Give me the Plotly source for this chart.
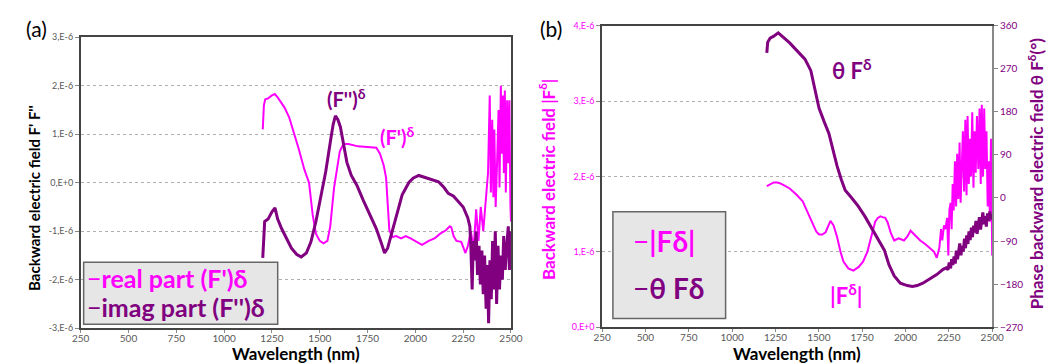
import plotly.graph_objects as go

W, H = 1055, 363

# ---------------- Panel (a) data ----------------
wl_real = [1202, 1208, 1215, 1230, 1250, 1265, 1280, 1300, 1316, 1340, 1367, 1390, 1419, 1444,
           1463, 1480, 1500, 1520, 1540, 1555, 1565, 1575, 1591, 1605, 1624, 1650, 1700, 1750,
           1796, 1815, 1835, 1847, 1855, 1864, 1880, 1900, 1925, 1950, 1975, 2000, 2035, 2070,
           2100, 2130, 2160, 2180, 2188, 2200, 2215, 2240, 2262, 2275, 2290, 2305, 2318, 2330,
           2342, 2355, 2368, 2380, 2389, 2395, 2402, 2408, 2413, 2420, 2428, 2435, 2440, 2447,
           2453, 2458, 2463, 2468, 2473, 2480, 2486, 2492, 2497, 2500]
real_part = [1.1, 1.6, 1.72, 1.74, 1.8, 1.83, 1.76, 1.65, 1.55, 1.35, 1.02, 0.7, 0.28, 0.0,
             -0.66, -1.05, -1.2, -1.25, -1.2, -0.9, -0.5, -0.1, 0.3, 0.65, 0.8, 0.8, 0.75, 0.74,
             0.72, 0.6, 0.35, 0.1, -0.4, -0.98, -1.12, -1.1, -1.15, -1.1, -1.15, -1.2, -1.28, -1.2,
             -1.15, -1.05, -0.98, -0.9, -0.92, -1.1, -1.2, -1.22, -1.45, -1.3, -1.0, -1.35, -0.55, -1.2,
             -0.5, -1.0, -0.3, 0.2, 1.8, -0.2, 1.3, -0.3, 1.1, -0.5, 0.5, 1.5, -0.1, 2.0,
             0.6, 1.8, 0.2, 1.9, -0.2, 1.7, 0.4, 1.7, -0.4, -0.8]

wl_imag = [1202, 1207, 1212, 1230, 1250, 1266, 1280, 1301, 1325, 1352, 1380, 1403, 1430, 1454,
           1480, 1506, 1531, 1557, 1570, 1582, 1595, 1608, 1625, 1642, 1665, 1694, 1726, 1760,
           1796, 1820, 1839, 1855, 1880, 1905, 1931, 1967, 1990, 2018, 2040, 2069, 2095, 2121,
           2150, 2172, 2200, 2223, 2250, 2274, 2285, 2290, 2297, 2303, 2310, 2318, 2325, 2333,
           2340, 2348, 2355, 2362, 2370, 2377, 2383, 2390, 2397, 2404, 2411, 2418, 2425, 2432,
           2440, 2447, 2455, 2462, 2470, 2478, 2486, 2492, 2497, 2500]
imag_part = [-1.55, -1.0, -0.8, -0.75, -0.6, -0.52, -0.75, -0.95, -1.15, -1.35, -1.48, -1.53, -1.45, -1.22,
             -0.8, -0.25, 0.22, 0.88, 1.2, 1.38, 1.3, 1.15, 0.75, 0.42, 0.15, -0.05, -0.35, -0.65,
             -0.95, -1.22, -1.45, -1.35, -0.98, -0.6, -0.25, 0.01, 0.1, 0.15, 0.12, 0.08, 0.05, 0.02,
             -0.1, -0.22, -0.28, -0.38, -0.5, -0.72, -0.9, -1.3, -2.2, -1.2, -1.6, -1.0, -1.9, -1.3,
             -2.1, -1.4, -2.3, -1.5, -2.6, -1.7, -2.9, -1.6, -2.4, -1.2, -2.2, -1.0, -2.5, -1.3,
             -2.2, -1.5, -2.0, -1.1, -1.8, -1.3, -0.9, -1.8, -1.0, -1.7]

ya_ticks = [3, 2, 1, 0, -1, -2, -3]
ya_labels = ["3,E-6", "2,E-6", "1,E-6", "0,E+0", "-1,E-6", "-2,E-6", "-3,E-6"]

# ---------------- Panel (b) data ----------------
wl_mod = [1200, 1220, 1240, 1260, 1275, 1300, 1332, 1370, 1407, 1440, 1464, 1485, 1501, 1520,
          1539, 1555, 1567, 1585, 1605, 1625, 1642, 1670, 1699, 1730, 1755, 1780, 1803, 1825,
          1840, 1855, 1868, 1883, 1897, 1915, 1935, 1960, 1991, 2010, 2029, 2055, 2085, 2115,
          2142, 2165, 2180, 2195, 2205, 2212, 2222, 2230, 2240, 2247, 2253, 2260, 2266, 2272,
          2278, 2285, 2292, 2298, 2305, 2312, 2318, 2325, 2331, 2338, 2345, 2352, 2358, 2365,
          2372, 2378, 2385, 2392, 2398, 2405, 2412, 2420, 2427, 2434, 2440, 2447, 2454, 2460,
          2467, 2474, 2480, 2487, 2493, 2500]
mod_F = [1.87, 1.9, 1.92, 1.92, 1.91, 1.88, 1.84, 1.76, 1.67, 1.5, 1.37, 1.27, 1.23, 1.23,
         1.26, 1.36, 1.41, 1.35, 1.2, 1.0, 0.87, 0.78, 0.75, 0.8, 0.87, 1.0, 1.2, 1.4,
         1.45, 1.47, 1.46, 1.45, 1.39, 1.25, 1.15, 1.18, 1.15, 1.2, 1.28, 1.22, 1.15, 1.1,
         1.05, 1.0, 0.92, 1.05, 1.3, 1.15, 1.35, 1.3, 1.45, 0.95, 1.55, 1.65, 1.3, 1.9,
         1.55, 2.2, 1.6, 2.3, 1.7, 2.45, 1.65, 2.2, 2.6, 1.8, 2.75, 1.75, 2.8, 1.9,
         2.5, 2.0, 2.85, 1.85, 2.6, 2.05, 2.8, 2.1, 2.9, 1.9, 2.95, 2.0, 2.9, 2.1,
         2.6, 1.6, 2.2, 1.4, 2.5, 0.95]

wl_phase = [1200, 1205, 1219, 1240, 1266, 1290, 1332, 1360, 1388, 1420, 1454, 1475, 1501, 1530,
            1558, 1580, 1605, 1630, 1652, 1690, 1727, 1765, 1803, 1840, 1878, 1905, 1935, 1970,
            2010, 2040, 2067, 2100, 2142, 2180, 2217, 2235, 2245, 2252, 2260, 2266, 2273, 2280,
            2287, 2293, 2300, 2306, 2313, 2320, 2326, 2333, 2340, 2346, 2353, 2360, 2366, 2373,
            2380, 2386, 2393, 2400, 2406, 2413, 2420, 2426, 2433, 2440, 2446, 2453, 2460, 2466,
            2473, 2480, 2486, 2493, 2500]
phase_F = [303, 325, 334, 338, 345, 338, 324, 313, 303, 290, 266, 228, 188, 160,
           135, 103, 67, 38, 16, 0, -17, -38, -61, -85, -109, -140, -163, -178,
           -183, -185, -183, -178, -169, -160, -149, -146, -150, -135, -147, -128, -140, -122,
           -137, -110, -128, -115, -95, -120, -100, -112, -85, -105, -78, -96, -70, -88,
           -62, -82, -58, -72, -48, -75, -52, -40, -66, -45, -30, -55, -38, -60,
           -32, -48, -28, -45, -34]

yb_ticks = [0, 1, 2, 3, 4]
yb_labels = ["0,E+0", "1,E-6", "2,E-6", "3,E-6", "4,E-6"]
yc_ticks = [-270, -180, -90, 0, 90, 180, 270, 360]

x_ticks = [250, 500, 750, 1000, 1250, 1500, 1750, 2000, 2250, 2500]

MAG = "#FF00FF"
PUR = "#800080"
FONT = "Lato"
GRID = "#b0b0b0"
TICKC = "#595959"


def px(x):
    return x / W


def py(y):
    return 1 - y / H


fig = go.Figure()
fig.add_trace(go.Scatter(x=wl_real, y=real_part, mode="lines", line=dict(color=MAG, width=2),
                         xaxis="x", yaxis="y", showlegend=False))
fig.add_trace(go.Scatter(x=wl_imag, y=imag_part, mode="lines", line=dict(color=PUR, width=3),
                         xaxis="x", yaxis="y", showlegend=False))
fig.add_trace(go.Scatter(x=wl_mod, y=mod_F, mode="lines", line=dict(color=MAG, width=2),
                         xaxis="x2", yaxis="y2", showlegend=False))
fig.add_trace(go.Scatter(x=wl_phase, y=phase_F, mode="lines", line=dict(color=PUR, width=3),
                         xaxis="x2", yaxis="y3", showlegend=False))

xcommon = dict(range=[250, 2500], tickvals=x_ticks, ticks="outside", ticklen=3, tickcolor="#888",
               tickfont=dict(family=FONT, size=10, color=TICKC), showgrid=False, zeroline=False,
               showline=True, linecolor="#444", linewidth=1.5, ticklabelstandoff=-3)

fig.update_layout(
    width=W, height=H, margin=dict(l=0, r=0, t=0, b=0),
    paper_bgcolor="white", plot_bgcolor="white",
    font=dict(family=FONT),
    xaxis=dict(domain=[px(65), px(504)], anchor="y", mirror=True, **xcommon),
    yaxis=dict(domain=[py(324), py(24)], anchor="x", range=[-3, 3], tickvals=ya_ticks,
               ticktext=ya_labels, ticks="outside", ticklen=4, tickcolor="#888",
               tickfont=dict(family=FONT, size=9, color=TICKC), showgrid=True, gridcolor=GRID,
               griddash="dot", gridwidth=1, zeroline=False, showline=True, linecolor="#444",
               linewidth=1.5, mirror=True),
    xaxis2=dict(domain=[px(597), px(995)], anchor="y2", mirror=True, **xcommon),
    yaxis2=dict(domain=[py(323), py(12)], anchor="x2", range=[0, 4], tickvals=yb_ticks,
                ticktext=yb_labels, ticks="outside", ticklen=4, tickcolor="#888",
                tickfont=dict(family=FONT, size=9, color=MAG), showgrid=True, gridcolor=GRID,
                griddash="dot", gridwidth=1, zeroline=False, showline=True, linecolor="#444",
                linewidth=1.5),
    yaxis3=dict(overlaying="y2", anchor="x2", side="right", range=[-270, 360], tickvals=yc_ticks,
                ticks="outside", ticklen=4, tickcolor="#888",
                tickfont=dict(family=FONT, size=10, color=PUR), showgrid=False, zeroline=False,
                showline=True, linecolor="#888", linewidth=1.5),
)

shapes = [
    dict(type="rect", xref="paper", yref="paper", x0=px(68), x1=px(266), y0=py(320), y1=py(256),
         fillcolor="#e6e6e6", line=dict(color="#666", width=1.5), layer="above"),
    dict(type="rect", xref="paper", yref="paper", x0=px(608), x1=px(723), y0=py(314), y1=py(204),
         fillcolor="#e6e6e6", line=dict(color="#666", width=1.5), layer="above"),
]
fig.update_layout(shapes=shapes)


def ann(text, x, y, size, color="black", bold=True, angle=0, xanchor="center", yanchor="middle"):
    t = f"<b>{text}</b>" if bold else text
    fig.add_annotation(text=t, x=px(x), y=py(y), xref="paper", yref="paper", showarrow=False,
                       font=dict(family=FONT, size=size, color=color), textangle=angle,
                       xanchor=xanchor, yanchor=yanchor)


ann("(a)", 20, 15, 21, bold=False)
ann("(b)", 545, 15, 21, bold=False)
ann("Backward electric field F' F''", 18, 190, 15, angle=-90)
ann("Wavelength (nm)", 285, 350, 17)
ann("Wavelength (nm)", 796, 350, 17)
ann("Backward electric field |F<sup>δ</sup>|", 541, 171, 17, color=MAG, angle=-90)
ann("Phase backward electric field θ F<sup>δ</sup>(°)", 1039, 164, 17, color=PUR, angle=-90)
ann("(F'')<sup>δ</sup>", 336, 87, 20, color=PUR)
ann("(F')<sup>δ</sup>", 388, 126, 20, color=MAG)
ann("θ F<sup>δ</sup>", 852, 57, 22, color=PUR)
ann("|F<sup>δ</sup>|", 846, 289, 22, color=MAG)
ann("<span style='font-weight:normal'>−</span>real part (F')δ", 69, 272, 25, color=MAG, xanchor="left")
ann("<span style='font-weight:normal'>−</span>imag part (F'')δ", 69, 302, 25, color=PUR, xanchor="left")
ann("<span style='font-weight:normal'>−</span>|Fδ|", 626, 234, 28, color=MAG, xanchor="left")
ann("<span style='font-weight:normal'>−</span>θ Fδ", 626, 283, 28, color=PUR, xanchor="left")

fig.write_html("out.html")
